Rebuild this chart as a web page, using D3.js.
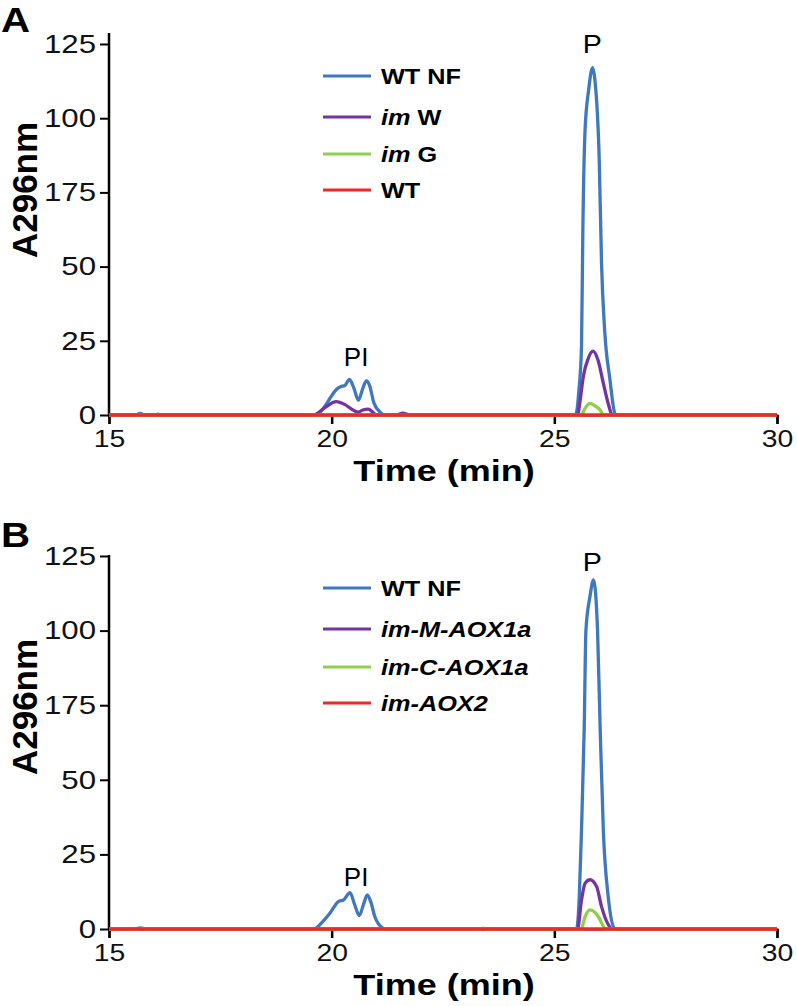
<!DOCTYPE html>
<html>
<head>
<meta charset="utf-8">
<script src="https://cdn.jsdelivr.net/npm/d3@7"></script>
<style>
  html, body { margin: 0; padding: 0; background: #fff; }
  svg { display: block; font-family: "Liberation Sans", Arial, sans-serif; }
</style>
</head>
<body>
<svg id="chart" width="797" height="1006"></svg>
<script>
// ---------- data ----------
const timeTicks = [15, 20, 25, 30];
const absTicks = [0, 25, 50, 75, 100, 125];
const absTickLabels = ["0", "25", "50", "175", "100", "125"];

const seriesColors = ["#3f78bd", "#7434a0", "#8fcf4c", "#ee2a24"];

// Legend labels: [italic part, bold part]
const legendA = [["", "WT NF"], ["im", " W"], ["im", " G"], ["", "WT"]];
const legendB = [["", "WT NF"], ["im-M-AOX1a", ""], ["im-C-AOX1a", ""], ["im-AOX2", ""]];

// [time (min), A296nm]
const wtNfA = [[15,0],[15.6,0],[15.7,0.5],[15.8,0],[16.05,0],[16.1,0.3],[16.15,0],[19.6,0],[19.8,2],[20.0,6.5],[20.1,8.5],[20.2,9.5],[20.3,10],[20.4,12],[20.5,9],[20.6,5],[20.7,9],[20.78,11.5],[20.85,10],[20.95,4],[21.1,0.8],[21.2,0],[25.48,0],[25.55,8],[25.61,23],[25.64,62],[25.69,96],[25.77,109.5],[25.86,117],[25.91,113],[26.01,85],[26.06,51],[26.13,28.6],[26.25,11.8],[26.36,0.5],[26.4,0],[30,0]];
const imWA = [[15,0],[19.6,0],[19.85,2.5],[20.1,4.5],[20.3,3.5],[20.5,1.5],[20.6,1],[20.7,1.7],[20.82,2],[20.92,1],[21.0,0],[21.45,0],[21.6,0.6],[21.75,0],[25.52,0],[25.58,5],[25.65,12.9],[25.76,19],[25.87,21.5],[25.98,18.5],[26.1,10.7],[26.21,3.9],[26.3,0],[30,0]];
const imGA = [[15,0],[25.6,0],[25.7,2.5],[25.8,3.9],[25.92,3],[26.03,1.7],[26.1,0],[30,0]];
const wtA = [[15,0],[30,0]];

const wtNfB = [[15,0],[15.6,0],[15.7,0.4],[15.8,0],[19.6,0],[19.8,2.5],[19.96,5.3],[20.15,9.2],[20.27,9.8],[20.41,12.2],[20.52,8],[20.62,4.5],[20.72,8.5],[20.8,11.4],[20.88,9],[20.97,4.1],[21.15,0.3],[21.2,0],[25.5,0],[25.56,10.8],[25.61,33.2],[25.67,66.7],[25.71,100.2],[25.8,111.4],[25.88,117],[25.97,100.2],[26.03,66.7],[26.1,33.2],[26.21,10.8],[26.36,0],[30,0]];
const imMB = [[15,0],[25.52,0],[25.61,9.7],[25.69,15.3],[25.8,16.5],[25.95,14.2],[26.06,7.5],[26.21,1.5],[26.3,0],[30,0]];
const imCB = [[15,0],[15.7,0],[15.75,0.3],[15.8,0],[23.35,0],[23.4,0.3],[23.45,0],[25.6,0],[25.69,4.1],[25.8,6.4],[25.99,4.1],[26.1,0.9],[26.15,0],[30,0]];
const imAox2B = [[15,0],[30,0]];

// ---------- drawing ----------
const svg = d3.select("#chart");
const SX = 1.15; // horizontal stretch of the original's text

function stretch(sel, sx) {
  sel.each(function () {
    const t = d3.select(this);
    const x = +(t.attr("x") || 0);
    t.attr("x", x / sx).attr("transform", `scale(${sx},1)`);
  });
}

const panels = [
  { letter: "A", top: 44, bottom: 415, axisTop: 33, series: [wtNfA, imWA, imGA, wtA], legend: legendA,
    legendY: [76, 117, 154, 190], pY: 53, piY: 366, yTitleY: 190 },
  { letter: "B", top: 556, bottom: 929, axisTop: 555, series: [wtNfB, imMB, imCB, imAox2B], legend: legendB,
    legendY: [588, 629, 667, 703], pY: 571, piY: 886, yTitleY: 707 }
];

panels.forEach(p => {
  const x = d3.scaleLinear().domain([15, 30]).range([109, 777]);
  const y = d3.scaleLinear().domain([0, 125]).range([p.bottom, p.top]);
  const g = svg.append("g");

  // y axis
  const yAxis = g.append("g").attr("transform", `translate(109,0)`)
    .call(d3.axisLeft(y).tickValues(absTicks).tickSize(9).tickPadding(4)
      .tickFormat((d, i) => absTickLabels[i]));
  yAxis.select(".domain").remove();
  yAxis.selectAll(".tick line").attr("stroke", "#000").attr("stroke-width", 2);
  yAxis.selectAll(".tick text").attr("font-size", 26).attr("fill", "#111")
    .attr("font-family", "Liberation Sans, Arial, sans-serif").call(stretch, 1.2);
  g.append("line").attr("x1", 109).attr("x2", 109).attr("y1", p.axisTop).attr("y2", p.bottom + 1)
    .attr("stroke", "#000").attr("stroke-width", 2.5);

  // x axis
  const xAxis = g.append("g").attr("transform", `translate(0,${p.bottom})`)
    .call(d3.axisBottom(x).tickValues(timeTicks).tickSize(9).tickPadding(6).tickFormat(d3.format("d")));
  xAxis.select(".domain").attr("stroke", "#000").attr("stroke-width", 2);
  xAxis.selectAll(".tick line").attr("stroke", "#000").attr("stroke-width", 2.5);
  xAxis.selectAll(".tick text").attr("font-size", 24).attr("fill", "#111")
    .attr("font-family", "Liberation Sans, Arial, sans-serif").call(stretch, 1.18);

  // series
  const line = d3.line().x(d => x(d[0])).y(d => y(d[1])).curve(d3.curveMonotoneX);
  p.series.forEach((s, i) => {
    g.append("path").datum(s).attr("d", line).attr("fill", "none")
      .attr("stroke", seriesColors[i]).attr("stroke-width", 3.3).attr("stroke-linejoin", "round");
  });

  // titles
  g.append("text").attr("x", 444).attr("y", p.bottom + 66).attr("text-anchor", "middle")
    .attr("font-size", 30).attr("font-weight", "bold").text("Time (min)").call(stretch, 1.2);
  g.append("text").attr("transform", `translate(37,${p.yTitleY}) rotate(-90)`)
    .attr("text-anchor", "middle").attr("font-size", 35).attr("font-weight", "bold").text("A296nm");
  g.append("text").attr("x", 1).attr("y", p.letter === "A" ? 32 : 547)
    .attr("font-size", 35).attr("font-weight", "bold").text(p.letter).call(stretch, SX);

  // peak labels
  g.append("text").attr("x", x(25.85)).attr("y", p.pY).attr("text-anchor", "middle")
    .attr("font-size", 26).text("P").call(stretch, 1.1);
  g.append("text").attr("x", x(20.55)).attr("y", p.piY).attr("text-anchor", "middle")
    .attr("font-size", 26).text("PI").call(stretch, 1.0);

  // legend
  p.legend.forEach((lab, i) => {
    const ly = p.legendY[i];
    g.append("line").attr("x1", 323).attr("x2", 371).attr("y1", ly).attr("y2", ly)
      .attr("stroke", seriesColors[i]).attr("stroke-width", 3);
    const t = g.append("text").attr("x", 381).attr("y", ly + 8).attr("font-size", 22)
      .attr("font-weight", "bold");
    if (lab[0]) t.append("tspan").attr("font-style", "italic").text(lab[0]);
    if (lab[1]) t.append("tspan").text(lab[1]);
    t.call(stretch, SX);
  });
});
</script>
</body>
</html>
